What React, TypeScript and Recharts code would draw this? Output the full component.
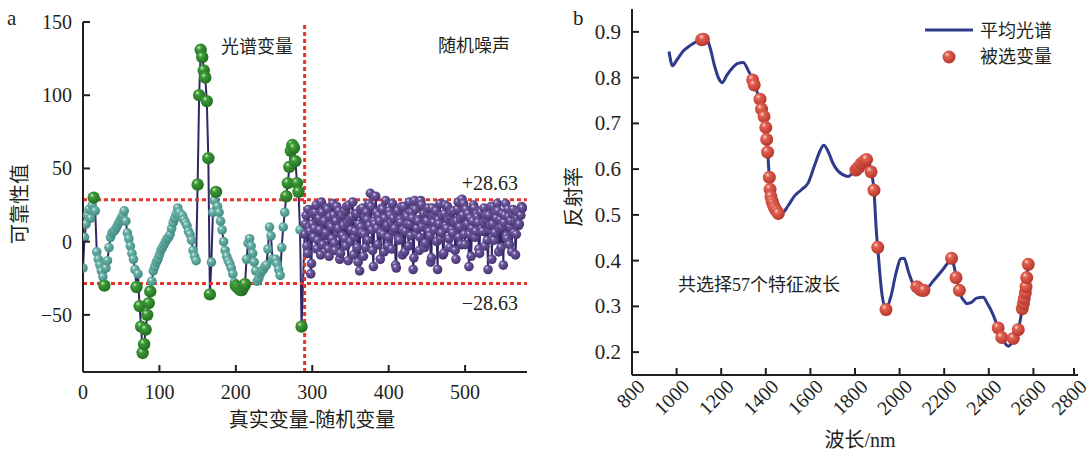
// Reliability plot (a) + mean spectrum with selected bands (b), recharts
import { ComposedChart, Line, XAxis, YAxis, ReferenceLine } from 'recharts';

// ---- panel a: reliability values ----
// real spectral variables, variable index = i * 2
const realReliability = [
  -18, 3, 12, 18, 22, 16, 25, 30, 21, -7,
  -12, -16, -20, -24, -30, -18, -13, -4, 3, 6,
  7, 8, 10, 12, 14, 16, 18, 21, 14, 6,
  2, -3, -8, -12, -19, -31, -22, -44, -58, -76,
  -70, -60, -50, -42, -34, -27, -20, -17, -14, -12,
  -9, -6, -4, -2, 0, 2, 3, 5, 9, 13,
  16, 19, 23, 20, 17, 18, 15, 13, 11, 7,
  5, 1, -6, -10, -13, 39, 100, 131, 126, 117,
  112, 96, 57, -36, -14, 20, 28, 34, 24, 20,
  14, 8, 0, -6, -10, -13, -15, -18, -22, -28,
  -30, -31, -32, -33, -33, -31, -29, -12, -1, 2,
  -3, -8, -14, -20, -27, -25, -22, -20, -19, -17,
  -16, -5, 10, 4, -12, -13, -12, -15, -19, -23,
  -4, 10, 20, 31, 40, 51, 62, 66, 64, 55,
  40, 34, 8, -58,
];
// random noise variables: even indices 290 + i * 2, odd indices 291 + i * 2
const noiseStart = 290;
const noiseEven = [
  5, 18, -8, 10, -22, 12, 3, 20, -5, 15,
  8, 27, -2, 14, 6, 22, -10, 11, 2, 18,
  -6, 24, 9, -12, 16, 4, 21, -3, 13, 25,
  0, 17, -9, 7, 19, -14, -20, 10, 23, 5,
  -4, 15, 26, 33, 8, -17, 12, 20, -2, 14,
  6, 22, -7, 28, 11, 3, 18, -5, 16, 9,
  -18, 21, 1, 13, -9, 24, 7, 17, -3, 12,
  20, -19, 28, 5, 15, -6, 28, 10, 19, -1,
  14, 23, 4, -11, 17, 8, 21, -19, 12, 2,
  18, -8, 25, 9, 15, -4, 20, 6, 13, -12,
  22, 3, 16, 29, 26, -2, 11, 19, 5, -10,
  14, 23, 7, 17, -5, 21, 9, 13, -3, 18,
  -19, 8, 24, 12, 1, 20, 26, -7, 15, 10,
  -16, 18, 4, 22, -2, 14, 19, 6, -9, 16,
  11, 21, 24,
];
const noiseOdd = [
  12, -3, 22, 7, -15, 19, 9, 25, 1, 16,
  -9, 20, 13, 4, 23, -5, 17, 10, 26, -1,
  14, 6, 21, -8, 18, 11, 2, 24, -13, 15,
  8, 27, 3, 19, -4, 12, 22, 6, -10, 17,
  20, 1, 11, 24, -6, 14, 31, 9, 18, -12,
  23, 5, 16, 10, -3, 21, 13, 26, 7, -16,
  19, 2, 15, 24, 8, -7, 18, 12, 27, 4,
  16, -11, 22, 9, 14, 3, 25, 17, -4, 11,
  20, 7, -14, 23, 13, 18, 0, 15, 26, 6,
  -9, 19, 11, 24, 2, 17, 8, 21, -6, 14,
  27, 10, -2, 18, 5, 22, 12, -17, 16, 9,
  25, 3, 19, 13, -8, 20, 7, 23, 15, 1,
  18, 11, -12, 24, 6, 16, 21, 9, -4, 19,
  13, 26, 2, 17, 10, -7, 22, 14, 5, 20,
  12, 18, 23,
];
const threshold = 28.63;
const aXTicks = [0, 100, 200, 300, 400, 500];
const aYTicks = [-50, 0, 50, 100, 150];

// ---- panel b: mean spectrum ----
const wavelengths = [
  966, 982, 1000, 1030, 1060, 1090, 1112, 1132, 1150, 1170,
  1190, 1205, 1225, 1250, 1275, 1299, 1320, 1341, 1360, 1380,
  1395, 1405, 1412, 1419, 1430, 1445, 1465, 1480, 1500, 1530,
  1560, 1590, 1620, 1645, 1660, 1680, 1700, 1720, 1745, 1770,
  1790, 1810, 1835, 1852, 1865, 1875, 1885, 1895, 1905, 1920,
  1939, 1960, 1985, 2005, 2020, 2040, 2060, 2080, 2100, 2120,
  2150, 2185, 2215, 2233, 2245, 2255, 2268, 2280, 2290, 2300,
  2320, 2345, 2375, 2395, 2420, 2440, 2458, 2475, 2488, 2500,
  2515, 2532, 2545, 2555, 2565, 2577,
];
const meanSpectrum = [
  0.857, 0.826, 0.838, 0.858, 0.870, 0.879, 0.884, 0.886, 0.866, 0.826,
  0.797, 0.789, 0.805, 0.821, 0.831, 0.833, 0.817, 0.795, 0.770, 0.738,
  0.705, 0.660, 0.610, 0.556, 0.528, 0.512, 0.502, 0.506, 0.520, 0.542,
  0.555, 0.570, 0.610, 0.642, 0.652, 0.638, 0.614, 0.598, 0.588, 0.584,
  0.592, 0.600, 0.613, 0.621, 0.610, 0.590, 0.554, 0.470, 0.410, 0.330,
  0.295, 0.320, 0.375, 0.404, 0.405, 0.375, 0.350, 0.342, 0.335, 0.338,
  0.355, 0.375, 0.394, 0.405, 0.386, 0.362, 0.335, 0.318, 0.312, 0.306,
  0.308, 0.318, 0.320, 0.305, 0.281, 0.255, 0.232, 0.218, 0.213, 0.218,
  0.232, 0.250, 0.280, 0.310, 0.345, 0.392,
];
const selectedWavelengths = [
  1112, 1120, 1341, 1348, 1374, 1381, 1392, 1400, 1404, 1408,
  1416, 1419, 1423, 1428, 1432, 1437, 1442, 1449, 1456, 1804,
  1812, 1819, 1828, 1837, 1845, 1852, 1872, 1885, 1902, 1939,
  2077, 2091, 2100, 2109, 2233, 2253, 2268, 2442, 2458, 2510,
  2532, 2550, 2555, 2559, 2564, 2567, 2570, 2577,
];
const selectedReflectance = [
  0.883, 0.884, 0.795, 0.784, 0.753, 0.731, 0.715, 0.691, 0.665, 0.637,
  0.582, 0.556, 0.540, 0.530, 0.524, 0.518, 0.513, 0.508, 0.503, 0.598,
  0.602, 0.605, 0.612, 0.615, 0.619, 0.621, 0.594, 0.554, 0.429, 0.293,
  0.343, 0.337, 0.335, 0.335, 0.405, 0.363, 0.335, 0.253, 0.232, 0.230,
  0.249, 0.295, 0.306, 0.317, 0.330, 0.343, 0.363, 0.392,
];
const bXTicks = [800, 1000, 1200, 1400, 1600, 1800, 2000, 2200, 2400, 2600, 2800];
const bYTicks = [0.2, 0.3, 0.4, 0.5, 0.6, 0.7, 0.8, 0.9];

const INK = '#231f20';
const SERIF = '"Liberation Serif", "Noto Sans CJK SC", serif';
const RED = '#e2362b';

const reliabilityData: { x: number; y: number; kind: string }[] = realReliability.map((v, i) => ({
  x: i * 2, y: v, kind: 'real',
}));
noiseEven.forEach((v, i) => {
  reliabilityData.push({ x: noiseStart + i * 2, y: v, kind: 'noise' });
  if (i < noiseOdd.length) reliabilityData.push({ x: noiseStart + 1 + i * 2, y: noiseOdd[i], kind: 'noise' });
});
const spectrumData = wavelengths.map((w, i) => ({ nm: w, r: meanSpectrum[i] }));
const selectedData = selectedWavelengths.map((w, i) => ({ nm: w, r: selectedReflectance[i] }));

const ReliabilityDot = (props: any) => {
  const { cx, cy, payload, index } = props;
  if (cx == null || cy == null) return <g key={`e${index}`} />;
  let fill = 'url(#ballTeal)';
  let r = 4.8;
  if (payload.kind === 'noise') {
    fill = 'url(#ballPurple)';
    r = 4.8;
  } else if (Math.abs(payload.y) > threshold) {
    fill = 'url(#ballGreen)';
    r = 6.2;
  }
  return <circle key={`d${index}`} cx={cx} cy={cy} r={r} fill={fill} />;
};

const RedDot = (props: any) => {
  const { cx, cy, index } = props;
  if (cx == null || cy == null) return <g key={`e${index}`} />;
  return <circle key={`s${index}`} cx={cx} cy={cy} r={6.5} fill="url(#ballRed)" />;
};

// ticks drawn inward, labels outside
const BottomTick = ({ x, y, payload, rotate }: any) => (
  <g>
    <line x1={x} y1={y} x2={x} y2={y - 7} stroke={INK} strokeWidth={2} />
    {rotate ? (
      <text x={x + 14} y={y + 13} transform={`rotate(-45, ${x + 14}, ${y + 13})`} textAnchor="end"
        fontSize={20} fontFamily={SERIF} fill={INK}>{payload.value}</text>
    ) : (
      <text x={x} y={y + 27} textAnchor="middle" fontSize={20} fontFamily={SERIF} fill={INK}>
        {payload.value}
      </text>
    )}
  </g>
);

const LeftTick = ({ x, y, payload, digits }: any) => (
  <g>
    <line x1={x} y1={y} x2={x + 7} y2={y} stroke={INK} strokeWidth={2} />
    <text x={x - 11} y={y + 7} textAnchor="end" fontSize={digits ? 21 : 20} fontFamily={SERIF} fill={INK}>
      {digits ? Number(payload.value).toFixed(digits) : payload.value < 0 ? `\u2212${Math.abs(payload.value)}` : payload.value}
    </text>
  </g>
);

function Ball({ id, hi, mid, lo }: { id: string; hi: string; mid: string; lo: string }) {
  return (
    <radialGradient id={id} cx="40%" cy="38%" r="62%" fx="35%" fy="30%">
      <stop offset="0%" stopColor={hi} />
      <stop offset="30%" stopColor={mid} />
      <stop offset="100%" stopColor={lo} />
    </radialGradient>
  );
}

export default function App() {
  const label = { fontFamily: SERIF, fill: INK };
  return (
    <div style={{ position: 'absolute', left: 0, top: 0, width: 1090, height: 452, background: '#fff' }}>
      <svg width={0} height={0} style={{ position: 'absolute' }}>
        <defs>
          <Ball id="ballTeal" hi="#e4f4f1" mid="#6db3aa" lo="#3f8a80" />
          <Ball id="ballGreen" hi="#c8ecc2" mid="#3e9a38" lo="#226e1f" />
          <Ball id="ballPurple" hi="#ded6ee" mid="#6c579c" lo="#45336f" />
          <Ball id="ballRed" hi="#fbd7cf" mid="#e06050" lo="#b8372c" />
        </defs>
      </svg>

      <div style={{ position: 'absolute', left: 0, top: 0 }}>
        <ComposedChart width={560} height={452} data={reliabilityData}
          margin={{ top: 22, right: 33, bottom: 50, left: 23 }}>
          <XAxis type="number" dataKey="x" domain={[0, 581]} ticks={aXTicks} allowDataOverflow
            height={30} tickSize={0} tickMargin={0} tickLine={false}
            axisLine={{ stroke: INK, strokeWidth: 2 }} tick={<BottomTick />} />
          <YAxis type="number" domain={[-89, 150]} ticks={aYTicks} allowDataOverflow
            width={60} tickSize={0} tickMargin={0} tickLine={false}
            axisLine={{ stroke: INK, strokeWidth: 2 }} tick={<LeftTick />} />
          <Line type="linear" dataKey="y" stroke="#2e2766" strokeWidth={2}
            dot={ReliabilityDot} activeDot={false} isAnimationActive={false} />
          <ReferenceLine y={threshold} stroke={RED} strokeWidth={3} strokeDasharray="4 3" />
          <ReferenceLine y={-threshold} stroke={RED} strokeWidth={3} strokeDasharray="4 3" />
          <ReferenceLine x={noiseStart} stroke={RED} strokeWidth={3} strokeDasharray="4 3" />
        </ComposedChart>
      </div>

      <div style={{ position: 'absolute', left: 560, top: 0 }}>
        <ComposedChart width={530} height={452}
          margin={{ top: 9, right: 12, bottom: 47, left: 12 }}>
          <XAxis type="number" dataKey="nm" domain={[800, 2800]} ticks={bXTicks} allowDataOverflow
            height={30} tickSize={0} tickMargin={0} tickLine={false}
            axisLine={{ stroke: INK, strokeWidth: 2 }} tick={<BottomTick rotate />} />
          <YAxis type="number" domain={[0.15, 0.95]} ticks={bYTicks} allowDataOverflow
            width={60} tickSize={0} tickMargin={0} tickLine={false}
            axisLine={{ stroke: INK, strokeWidth: 2 }} tick={<LeftTick digits={1} />} />
          <Line data={spectrumData} type="monotone" dataKey="r" stroke="#2f3a8a" strokeWidth={3}
            dot={false} activeDot={false} isAnimationActive={false} />
          <Line data={selectedData} type="linear" dataKey="r" stroke="none"
            dot={RedDot} activeDot={false} isAnimationActive={false} />
        </ComposedChart>
      </div>

      {/* titles, annotations and legend */}
      <svg width={1090} height={452} style={{ position: 'absolute', left: 0, top: 0, pointerEvents: 'none' }}>
        <text x={7} y={25} fontSize={21} {...label}>a</text>
        <text x={573} y={25} fontSize={21} {...label}>b</text>

        <text x={20} y={204} fontSize={20} textAnchor="middle" dominantBaseline="central"
          transform="rotate(-90, 20, 204)" {...label}>可靠性值</text>
        <text x={312} y={420} fontSize={20} textAnchor="middle" dominantBaseline="central" {...label}>
          真实变量-随机变量
        </text>
        <text x={257} y={47} fontSize={18} textAnchor="middle" dominantBaseline="central" {...label}>光谱变量</text>
        <text x={474} y={46} fontSize={18} textAnchor="middle" dominantBaseline="central" {...label}>随机噪声</text>
        <text x={518} y={190} fontSize={20} textAnchor="end" {...label}>+28.63</text>
        <text x={518} y={310} fontSize={20} textAnchor="end" {...label}>{'\u221228.63'}</text>

        <text x={574} y={197} fontSize={20} textAnchor="middle" dominantBaseline="central"
          transform="rotate(-90, 574, 197)" {...label}>反射率</text>
        <text x={860} y={440} fontSize={20} textAnchor="middle" dominantBaseline="central" {...label}>波长/nm</text>
        <text x={678} y={285} fontSize={18} dominantBaseline="central" {...label}>共选择57个特征波长</text>

        <line x1={925} y1={30} x2={973} y2={30} stroke="#2f3a8a" strokeWidth={3} />
        <text x={980} y={31} fontSize={18} dominantBaseline="central" {...label}>平均光谱</text>
        <circle cx={949} cy={57} r={6.5} fill="url(#ballRed)" />
        <text x={980} y={57} fontSize={18} dominantBaseline="central" {...label}>被选变量</text>
      </svg>
    </div>
  );
}
